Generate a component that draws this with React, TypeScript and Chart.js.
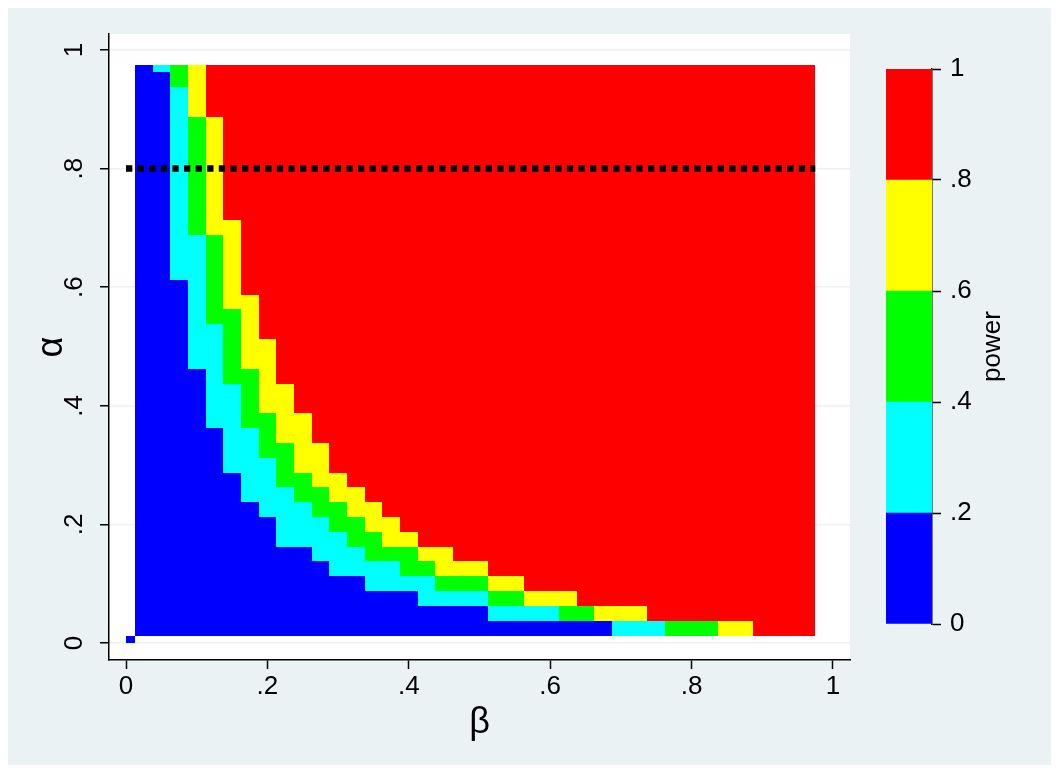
import React, { useEffect, useRef } from "react";
import { Chart, registerables } from "chart.js";

Chart.register(...registerables);

// ---- data ----
// grid of alpha rows (y) and beta columns (x)
const alphaRows = [0.025, 0.05, 0.075, 0.1, 0.125, 0.15, 0.175, 0.2, 0.225, 0.25, 0.275, 0.3, 0.325, 0.35, 0.375, 0.4, 0.425, 0.45, 0.475, 0.5, 0.525, 0.55, 0.575, 0.6, 0.625, 0.65, 0.675, 0.7, 0.725, 0.75, 0.775, 0.8, 0.825, 0.85, 0.875, 0.9, 0.925, 0.95, 0.975];
const betaCols = [0.025, 0.05, 0.075, 0.1, 0.125, 0.15, 0.175, 0.2, 0.225, 0.25, 0.275, 0.3, 0.325, 0.35, 0.375, 0.4, 0.425, 0.45, 0.475, 0.5, 0.525, 0.55, 0.575, 0.6, 0.625, 0.65, 0.675, 0.7, 0.725, 0.75, 0.775, 0.8, 0.825, 0.85, 0.875, 0.9, 0.925, 0.95, 0.975];

// beta value (per alpha row) at which each power band starts
const cyanFrom = [0.7, 0.525, 0.425, 0.35, 0.3, 0.275, 0.225, 0.225, 0.2, 0.175, 0.175, 0.15, 0.15, 0.15, 0.125, 0.125, 0.125, 0.125, 0.1, 0.1, 0.1, 0.1, 0.1, 0.1, 0.075, 0.075, 0.075, 0.075, 0.075, 0.075, 0.075, 0.075, 0.075, 0.075, 0.075, 0.075, 0.075, 0.075, 0.05];
const greenFrom = [0.775, 0.625, 0.525, 0.45, 0.4, 0.35, 0.325, 0.3, 0.275, 0.25, 0.225, 0.225, 0.2, 0.2, 0.175, 0.175, 0.175, 0.15, 0.15, 0.15, 0.15, 0.125, 0.125, 0.125, 0.125, 0.125, 0.125, 0.1, 0.1, 0.1, 0.1, 0.1, 0.1, 0.1, 0.1, 0.1, 0.1, 0.075, 0.075];
const yellowFrom = [0.85, 0.675, 0.575, 0.525, 0.45, 0.425, 0.375, 0.35, 0.325, 0.3, 0.275, 0.25, 0.25, 0.225, 0.225, 0.2, 0.2, 0.2, 0.175, 0.175, 0.175, 0.175, 0.15, 0.15, 0.15, 0.15, 0.15, 0.125, 0.125, 0.125, 0.125, 0.125, 0.125, 0.125, 0.125, 0.1, 0.1, 0.1, 0.1];
const redFrom = [0.9, 0.75, 0.65, 0.575, 0.525, 0.475, 0.425, 0.4, 0.375, 0.35, 0.325, 0.3, 0.3, 0.275, 0.275, 0.25, 0.25, 0.225, 0.225, 0.225, 0.2, 0.2, 0.2, 0.175, 0.175, 0.175, 0.175, 0.175, 0.15, 0.15, 0.15, 0.15, 0.15, 0.15, 0.15, 0.125, 0.125, 0.125, 0.125];

// single extra grid point at the origin (power band 0)
const originBeta = 0;
const originAlpha = 0;
const originBand = 0;

// reference line alpha = .8
const refAlpha = 0.8;
const refBetaFrom = 0;
const refBetaTo = 0.975;

// power legend bands
const powerBreaks = [0, 0.2, 0.4, 0.6, 0.8, 1];
const bandColors = ["#0000FF", "#00FFFF", "#00FF00", "#FFFF00", "#FF0000"];

// axis ticks
const tickValues = [0, 0.2, 0.4, 0.6, 0.8, 1];
const tickLabels = ["0", ".2", ".4", ".6", ".8", "1"];

const FONT = '"Liberation Sans Narrow", "Arial Narrow", "Liberation Sans", Arial, sans-serif';
const TICK_SIZE = 26;
const BG = "#EAF2F3";

const labelFor = (v: number) => {
  const i = tickValues.findIndex((t) => Math.abs(t - v) < 1e-9);
  return i >= 0 ? tickLabels[i] : "";
};

const noPad = (s: any) => {
  s.paddingTop = 0;
  s.paddingBottom = 0;
  s.paddingLeft = 0;
  s.paddingRight = 0;
};

const plotBgPlugin = {
  id: "plotBg",
  beforeDraw(chart: any) {
    const { ctx, chartArea } = chart;
    ctx.save();
    ctx.fillStyle = "#FFFFFF";
    ctx.fillRect(chartArea.left, chartArea.top, chartArea.right - chartArea.left, chartArea.bottom - chartArea.top);
    ctx.restore();
  },
};

const heatmapPlugin = {
  id: "heatmap",
  beforeDatasetsDraw(chart: any) {
    const { ctx } = chart;
    const xs = chart.scales.x;
    const ys = chart.scales.y;
    const half = (alphaRows[1] - alphaRows[0]) / 2;
    const aMax = alphaRows[alphaRows.length - 1];
    const bMin = betaCols[0] - half;
    const bMax = betaCols[betaCols.length - 1];
    const px = (v: number) => Math.round(xs.getPixelForValue(v));
    const py = (v: number) => Math.round(ys.getPixelForValue(v));
    ctx.save();
    alphaRows.forEach((a, i) => {
      const yTop = py(Math.min(a + half, aMax));
      const yBot = py(a - half);
      const edges = [bMin, cyanFrom[i] - half, greenFrom[i] - half, yellowFrom[i] - half, redFrom[i] - half, bMax];
      for (let c = 0; c < 5; c++) {
        const x0 = px(edges[c]);
        const x1 = px(edges[c + 1]);
        if (x1 > x0) {
          ctx.fillStyle = bandColors[c];
          ctx.fillRect(x0, yTop, x1 - x0, yBot - yTop);
        }
      }
    });
    // origin cell (clipped to the data range)
    const ox0 = px(originBeta);
    const ox1 = px(originBeta + half);
    const oy0 = py(originAlpha + half);
    const oy1 = py(originAlpha);
    ctx.fillStyle = bandColors[originBand];
    ctx.fillRect(ox0, oy0, ox1 - ox0, oy1 - oy0);
    ctx.restore();
  },
};

const powerTitlePlugin = {
  id: "powerTitle",
  afterDraw(chart: any) {
    const { ctx } = chart;
    const cy = (chart.chartArea.top + chart.chartArea.bottom) / 2;
    ctx.save();
    ctx.translate(117, cy);
    ctx.rotate(-Math.PI / 2);
    ctx.font = `${TICK_SIZE}px ${FONT}`;
    ctx.fillStyle = "#000";
    ctx.textAlign = "center";
    ctx.textBaseline = "middle";
    ctx.fillText("power", 0, 0);
    ctx.restore();
  },
};

export default function App() {
  const mainRef = useRef<HTMLCanvasElement>(null);
  const barRef = useRef<HTMLCanvasElement>(null);

  useEffect(() => {
    const main = new Chart(mainRef.current as HTMLCanvasElement, {
      type: "scatter",
      data: {
        datasets: [
          {
            type: "line",
            data: [
              { x: refBetaFrom, y: refAlpha },
              { x: refBetaTo, y: refAlpha },
            ],
            borderColor: "#000",
            borderWidth: 6.5,
            borderDash: [6.3, 5.3],
            borderCapStyle: "butt",
            pointRadius: 0,
            fill: false,
          } as any,
        ],
      },
      options: {
        animation: false,
        responsive: false,
        devicePixelRatio: 1,
        layout: { padding: { left: 0, right: 201, top: 26, bottom: 0 } },
        plugins: { legend: { display: false }, tooltip: { enabled: false } },
        scales: {
          x: {
            type: "linear",
            min: -0.02405,
            max: 1.02405,
            afterBuildTicks: (s: any) => {
              s.ticks = tickValues.map((v) => ({ value: v }));
            },
            afterFit: (s: any) => {
              s.height = 105;
              noPad(s);
            },
            ticks: {
              callback: (v: any) => labelFor(Number(v)),
              font: { family: FONT, size: TICK_SIZE },
              color: "#000",
              padding: 2,
              autoSkip: false,
              maxRotation: 0,
            },
            grid: { drawOnChartArea: false, drawTicks: true, tickLength: 9, tickColor: "#000", tickWidth: 1.5 },
            border: { display: true, color: "#000", width: 1.5 },
            title: {
              display: true,
              text: "β",
              font: { family: FONT, size: 36, lineHeight: 1.2 },
              color: "#000",
              padding: { top: 0, bottom: 20 },
            },
          },
          y: {
            type: "linear",
            min: -0.0287,
            max: 1.027,
            afterBuildTicks: (s: any) => {
              s.ticks = tickValues.map((v) => ({ value: v }));
            },
            afterFit: (s: any) => {
              s.width = 101;
              noPad(s);
            },
            ticks: {
              callback: (v: any) => labelFor(Number(v)),
              font: { family: FONT, size: TICK_SIZE },
              color: "#000",
              padding: 14,
              autoSkip: false,
              minRotation: 90,
              maxRotation: 90,
              crossAlign: "center",
            },
            grid: { drawOnChartArea: true, color: BG, lineWidth: 1.5, tickLength: 9, tickColor: "#000", tickWidth: 1.5 },
            border: { display: true, color: "#000", width: 1.5 },
            title: {
              display: true,
              text: "α",
              font: { family: FONT, size: 36, lineHeight: 1.2 },
              color: "#000",
              padding: { top: 22, bottom: 0 },
            },
          },
        },
      } as any,
      plugins: [plotBgPlugin, heatmapPlugin],
    });

    const bar = new Chart(barRef.current as HTMLCanvasElement, {
      type: "bar",
      data: {
        labels: ["power"],
        datasets: bandColors.map((col, i) => ({
          data: [[powerBreaks[i], powerBreaks[i + 1]]],
          backgroundColor: col,
          borderWidth: 0,
          barPercentage: 1,
          categoryPercentage: 1,
          grouped: false,
        })) as any,
      },
      options: {
        animation: false,
        responsive: false,
        devicePixelRatio: 1,
        layout: { padding: { left: 10, right: 19, top: 20, bottom: 20 } },
        plugins: { legend: { display: false }, tooltip: { enabled: false } },
        scales: {
          x: { display: false },
          y: {
            position: "right",
            min: 0,
            max: 1,
            afterBuildTicks: (s: any) => {
              s.ticks = tickValues.map((v) => ({ value: v }));
            },
            afterFit: (s: any) => {
              s.width = 100;
              noPad(s);
            },
            ticks: {
              callback: (v: any) => labelFor(Number(v)),
              font: { family: FONT, size: TICK_SIZE },
              color: "#000",
              padding: 9,
              autoSkip: false,
            },
            grid: { drawOnChartArea: false, drawTicks: true, tickLength: 9, tickColor: "#000", tickWidth: 1.5 },
            border: { display: true, color: "#000", width: 1.5 },
          },
        },
      } as any,
      plugins: [powerTitlePlugin],
    });

    return () => {
      main.destroy();
      bar.destroy();
    };
  }, []);

  return (
    <div style={{ position: "relative", width: 1043, height: 757, background: BG }}>
      <canvas
        ref={mainRef}
        width={1043}
        height={757}
        style={{ position: "absolute", left: 0, top: 0, width: 1043, height: 757 }}
      />
      <canvas
        ref={barRef}
        width={175}
        height={595}
        style={{ position: "absolute", left: 868, top: 41, width: 175, height: 595 }}
      />
    </div>
  );
}
